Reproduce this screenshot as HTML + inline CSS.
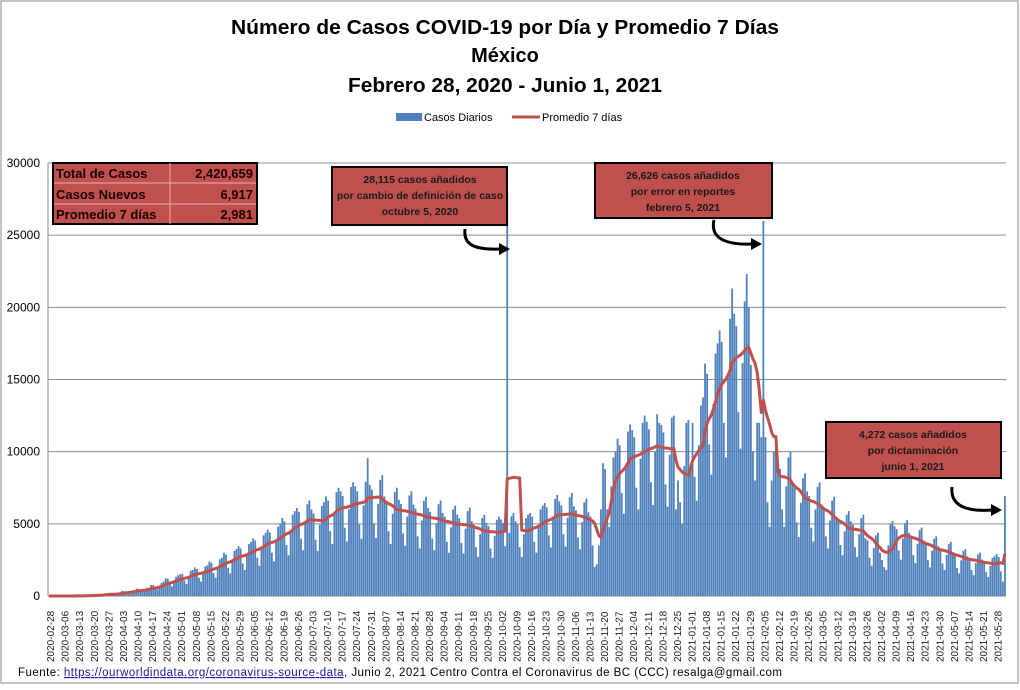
<!DOCTYPE html>
<html><head><meta charset="utf-8">
<style>
html,body{margin:0;padding:0;background:#fff;}
body{width:1020px;height:685px;overflow:hidden;font-family:"Liberation Sans",sans-serif;}
</style></head>
<body>
<svg id="chart" width="1020" height="685" xmlns="http://www.w3.org/2000/svg" font-family="Liberation Sans, sans-serif">
<rect x="1" y="1" width="1017" height="682" fill="#fff" stroke="#888" stroke-width="1"/>
<g font-weight="bold" font-size="20" text-anchor="middle" fill="#000">
<text x="505" y="34" textLength="548" lengthAdjust="spacingAndGlyphs">Número de  Casos  COVID-19 por Día y Promedio 7 Días</text>
<text x="505" y="62">México</text>
<text x="505" y="92" textLength="314" lengthAdjust="spacingAndGlyphs">Febrero 28, 2020 - Junio 1, 2021</text>
</g>
<g font-size="11">
<rect x="396" y="113" width="26" height="8" fill="#4F81BD"/>
<text x="424" y="121">Casos Diarios</text>
<line x1="512" y1="117" x2="540" y2="117" stroke="#C0504D" stroke-width="3"/>
<text x="542" y="121">Promedio 7 días</text>
</g>
<g id="grid"></g>
<g id="bars"></g>
<path id="avgline" fill="none" stroke="#C0504D" stroke-width="3" stroke-linejoin="round"/>
<g id="yticks" font-size="12" text-anchor="end"></g>
<g id="xticks" font-size="10" fill="#222"></g>

<g font-size="13" font-weight="bold" fill="#1a0000">
<rect x="53" y="163" width="204" height="61" fill="#C0504D" stroke="#000" stroke-width="2"/>
<line x1="170" y1="163" x2="170" y2="224" stroke="#e8b0b0"/>
<line x1="54" y1="183" x2="256" y2="183" stroke="#e8b0b0"/>
<line x1="54" y1="204" x2="256" y2="204" stroke="#e8b0b0"/>
<text x="56" y="178">Total de Casos</text><text x="253" y="178" text-anchor="end">2,420,659</text>
<text x="56" y="199">Casos Nuevos</text><text x="253" y="199" text-anchor="end">6,917</text>
<text x="56" y="219">Promedio 7 días</text><text x="253" y="219" text-anchor="end">2,981</text>
</g>

<g font-size="10.5" font-weight="bold" fill="#1a1a1a" text-anchor="middle">
<g>
<rect x="332" y="167" width="175" height="58" fill="#C0504D" stroke="#000" stroke-width="2"/>
<text x="420" y="183">28,115 casos  añadidos</text>
<text x="420" y="199">por cambio de definición  de caso</text>
<text x="420" y="215">octubre  5, 2020</text>
<path d="M465,229 C463,245 475,250 500,249" fill="none" stroke="#000" stroke-width="3"/>
<path d="M499,243 L510,249 L499,255 Z" fill="#000"/>
</g>
<g>
<rect x="595" y="163" width="177" height="55" fill="#C0504D" stroke="#000" stroke-width="2"/>
<text x="683" y="179">26,626 casos  añadidos</text>
<text x="683" y="195">por error en reportes</text>
<text x="683" y="211">febrero  5, 2021</text>
<path d="M714,220 C710,238 725,245 752,244" fill="none" stroke="#000" stroke-width="3"/>
<path d="M751,238 L762,244 L751,250 Z" fill="#000"/>
</g>
<g>
<rect x="826" y="422" width="175" height="56" fill="#C0504D" stroke="#000" stroke-width="2"/>
<text x="913" y="438">4,272 casos  añadidos</text>
<text x="913" y="454">por dictaminación</text>
<text x="913" y="470">junio 1, 2021</text>
<path d="M952,487 C950,505 965,512 992,510" fill="none" stroke="#000" stroke-width="3"/>
<path d="M991,504 L1002,510 L991,516 Z" fill="#000"/>
</g>
</g>

<g font-size="11.5" fill="#000">
<text x="18" y="676" textLength="764" lengthAdjust="spacing">Fuente:  <tspan fill="#1a1aa0" text-decoration="underline">https://ourworldindata.org/coronavirus-source-data</tspan>,  Junio 2, 2021    Centro  Contra el Coronavirus de BC  (CCC) resalga@gmail.com</text>
</g>
</svg>
<script>
const startDate = "2020-02-28";
const yTicks = [0,5000,10000,15000,20000,25000,30000];
const dailyCases = [
1,0,0,0,0,1,2, 2,3,4,1,5,7,6, 12,15,12,15,28,40,53, 40,55,65,48,82,116,164,
135,150,120,90,145,180,230, 340,330,250,180,280,360,390, 520,490,340,280,430,560,580,
760,760,520,440,680,900,1000, 1230,1200,830,660,1050,1330,1430, 1510,1540,1080,830,1340,1750,1800,
1980,1870,1260,1000,1620,2050,2120, 2400,2300,1580,1260,1990,2550,2650, 3000,2860,1950,1560,2470,3120,3250,
3450,3300,2250,1800,2850,3600,3750, 4000,3850,2650,2100,3330,4200,4380, 4600,4400,3000,2400,3800,4800,5000,
5400,5170,3530,2820,4470,5640,5880, 6100,5830,3980,3180,5040,6360,6620, 6000,5720,3900,3120,4940,6240,6500,
6900,6600,4500,3600,5700,7200,7500, 7250,6930,4730,3780,6000,7560,7880, 7600,7260,4950,3960,6270,7920,9550,
7700,7370,5030,4020,6370,8040,8380, 6900,6600,4500,3600,5700,7200,7500, 6670,6380,4350,3480,5510,6960,7250,
6330,6050,4130,3300,5230,6600,6880, 6100,5830,3980,3180,5040,6360,6620, 5750,5500,3750,3000,4750,6000,6250,
5640,5390,3680,2940,4660,5880,6130, 5180,4950,3380,2700,4280,5400,5630, 5060,4840,3300,2640,4180,5280,5500,
5300,5060,3450,28115,4370,5520,5750, 5180,4950,3380,2700,4280,5400,5630, 5750,5500,3750,3000,4750,6000,6250,
6440,6160,4200,3360,5320,6720,7000, 6560,6270,4280,3420,5420,6840,7130, 6210,5940,4050,3240,5130,6480,6750,
5800,5500,3500,2000,2200,3500,6000, 9200,8800,6000,4800,7600,9600,10000, 10900,10450,7130,5700,9030,11400,11880,
11500,11000,7500,6000,9500,12000,12500, 12080,11550,7880,6300,9980,12600,12000, 11850,11330,7730,6180,9790,12360,12500,
6000,8000,6500,5000,9000,12000,12200, 9000,12000,8250,6600,10450,13200,13750, 16100,15400,10500,8400,13300,16800,17500,
18400,17600,12000,9600,15200,19200,21300, 19550,18700,12750,10200,16150,20400,22300, 20000,16000,10000,8000,12000,12000,11000,
26000,11000,6500,4800,8000,10000,11000, 9200,8800,6000,4800,7600,9600,10000, 7820,7480,5100,4080,6460,8160,8500,
7250,6930,4730,3780,6000,7560,7880, 6330,6050,4130,3300,5230,6600,6880, 5400,5170,3530,2820,4470,5640,5880,
5180,4950,3380,2700,4280,5400,5630, 4000,3850,2650,2100,3330,4200,4380, 3000,2500,2000,1800,3500,5000,5200,
4830,4620,3150,2520,3990,5040,5250, 4370,4180,2850,2280,3610,4560,4750, 3800,3630,2480,1980,3140,3960,4130,
3450,3300,2250,1800,2850,3600,3750, 2990,2860,1950,1560,2470,3120,3250, 2760,2640,1800,1440,2280,2880,3000,
2530,2420,1650,1320,2090,2640,2750, 2900,2700,1700,1000,6917
];
const NS="http://www.w3.org/2000/svg";
const X0=48, X1=1006, Y0=596, Y1=163, YMAX=30000;
const n=dailyCases.length;
const step=(X1-X0)/n;
function xScale(i){return X0+step*(i+0.5);}
function yScale(v){return Y0-(v/YMAX)*(Y0-Y1);}
function mk(tag,attrs,parent){const e=document.createElementNS(NS,tag);for(const k in attrs)e.setAttribute(k,attrs[k]);parent.appendChild(e);return e;}
const grid=document.getElementById('grid'), yt=document.getElementById('yticks');
mk('line',{x1:X0,y1:Y1,x2:X0,y2:Y0,stroke:'#888'},grid);
yTicks.forEach(t=>{
  const y=yScale(t);
  const gl=mk('line',{x1:X0,y1:y,x2:X1,y2:y,stroke:'#8c8c8c','stroke-width':1},grid);
  
  
  const tx=mk('text',{x:40,y:y+4},yt);
  tx.textContent=t;
  
  
});
const bars=document.getElementById('bars');
dailyCases.forEach((v,i)=>{
  const y=yScale(v);
  const b=mk('rect',{x:xScale(i)-0.9,y:y,width:1.8,height:Y0-y,fill:'#4F81BD'},bars);
  
  
});
let d='';
for(let i=0;i<n;i++){
  const s=Math.max(0,i-6);let sum=0;for(let j=s;j<=i;j++)sum+=dailyCases[j];
  const a=sum/(i-s+1);
  d+=(i?'L':'M')+xScale(i).toFixed(1)+','+yScale(a).toFixed(1);
}
document.getElementById('avgline').setAttribute('d',d);
const xt=document.getElementById('xticks');
const sd=new Date(startDate+"T00:00:00Z");
for(let i=0;i<n;i+=7){
  const dt=new Date(sd.getTime()+i*86400000);
  const lab=dt.toISOString().slice(0,10);
  const x=xScale(i)+5;
  const t=mk('text',{x:x,y:662,transform:'rotate(-90 '+x+' 662)'},xt);
  t.textContent=lab;
  
  
}
</script>
</body></html>
